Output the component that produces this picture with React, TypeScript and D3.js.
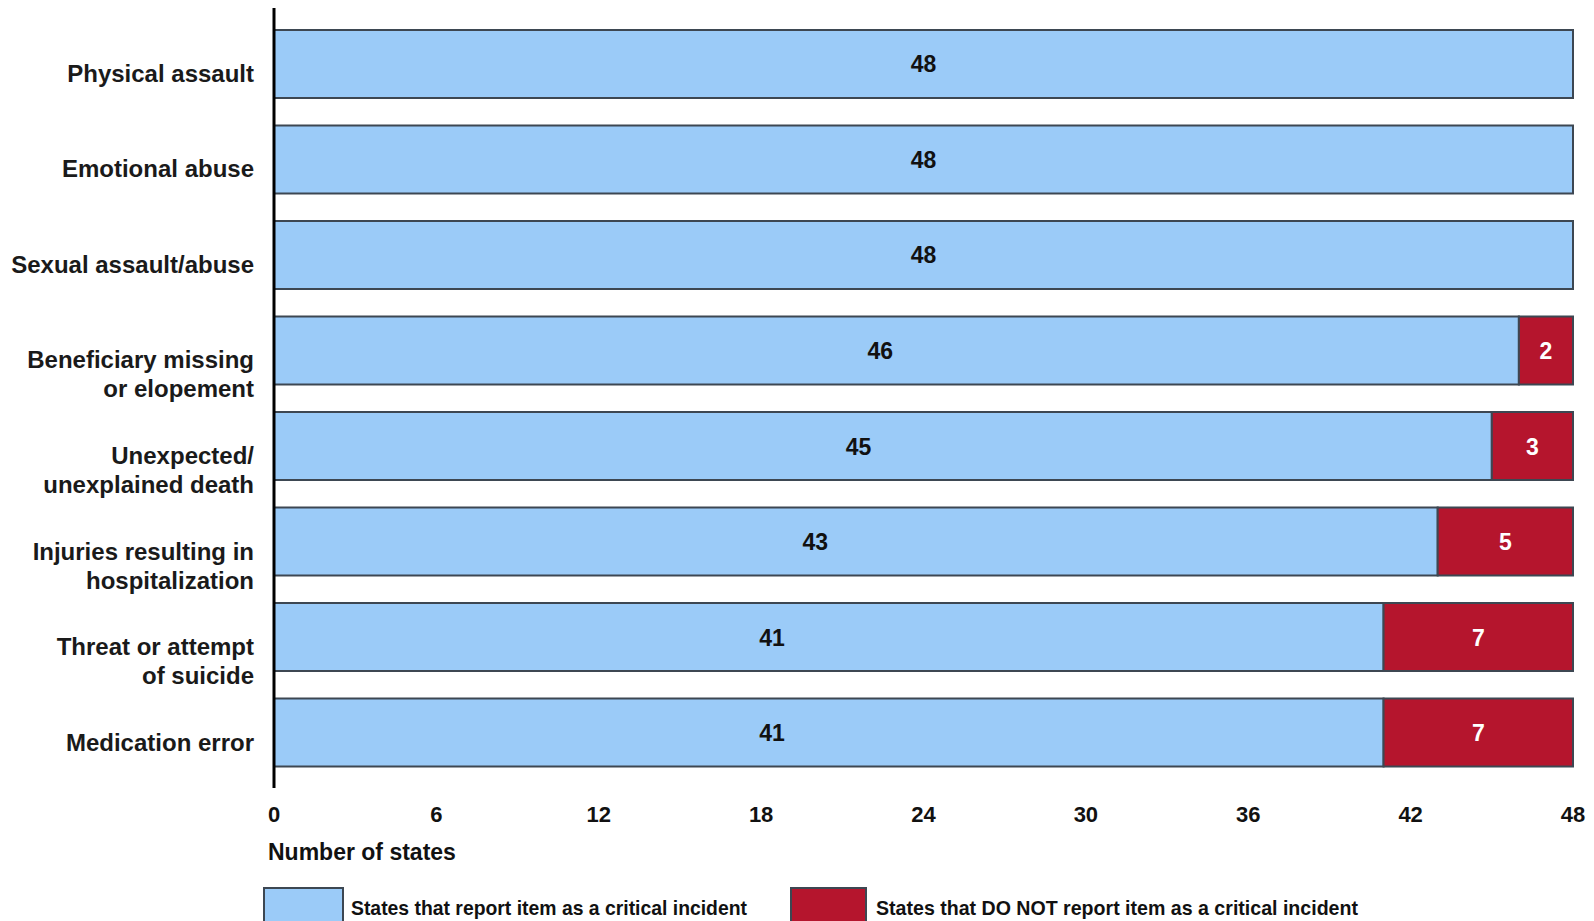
import React from "react";
import * as d3 from "d3";

const categories: string[][] = [
  ["Physical assault"],
  ["Emotional abuse"],
  ["Sexual assault/abuse"],
  ["Beneficiary missing", "or elopement"],
  ["Unexpected/", "unexplained death"],
  ["Injuries resulting in", "hospitalization"],
  ["Threat or attempt", "of suicide"],
  ["Medication error"],
];
const reportValues: number[] = [48, 48, 48, 46, 45, 43, 41, 41];
const notReportValues: number[] = [0, 0, 0, 2, 3, 5, 7, 7];
const xTicks: number[] = [0, 6, 12, 18, 24, 30, 36, 42, 48];
const xLabel = "Number of states";
const legendLabels: string[] = [
  "States that report item as a critical incident",
  "States that DO NOT report item as a critical incident",
];

const W = 1594;
const H = 921;
const BLUE = "#9bcbf8";
const RED = "#b5152d";
const EDGE = "#3d4752";
const FONT = "'Liberation Sans', Arial, Helvetica, sans-serif";

export default function App() {
  const keys = categories.map((_, i) => String(i));
  const x = d3.scaleLinear().domain([0, 48]).range([274, 1573]);
  const y = d3
    .scaleBand<string>()
    .domain(keys)
    .range([30, 766.5])
    .paddingInner(0.288)
    .paddingOuter(0);
  const bw = y.bandwidth();

  return (
    <svg
      width={W}
      height={H}
      style={{ position: "absolute", left: 0, top: 0, background: "#fff" }}
      fontFamily={FONT}
      fontWeight="bold"
    >
      <rect x={0} y={0} width={W} height={H} fill="#fff" />
      {categories.map((lines, i) => {
        const y0 = y(keys[i]) as number;
        const cy = y0 + bw / 2;
        const blue = reportValues[i];
        const red = notReportValues[i];
        const labelX = x((blue - 0.6 * red) / 2);
        return (
          <g key={i}>
            <rect
              x={x(0)}
              y={y0}
              width={x(blue) - x(0)}
              height={bw}
              fill={BLUE}
              stroke={EDGE}
              strokeWidth={2}
            />
            {red > 0 && (
              <rect
                x={x(blue)}
                y={y0}
                width={x(blue + red) - x(blue)}
                height={bw}
                fill={RED}
                stroke={EDGE}
                strokeWidth={2}
              />
            )}
            <text
              x={labelX}
              y={cy + 8.5}
              textAnchor="middle"
              fontSize={23}
              fill="#111"
            >
              {blue}
            </text>
            {red > 0 && (
              <text
                x={x(blue + red / 2)}
                y={cy + 8.5}
                textAnchor="middle"
                fontSize={23}
                fill="#fff"
              >
                {red}
              </text>
            )}
            <text x={254} y={cy + 18} textAnchor="end" fontSize={24} fill="#1a1a1a">
              {lines.map((ln, j) => (
                <tspan key={j} x={254} dy={j === 0 ? 0 : 29}>
                  {ln}
                </tspan>
              ))}
            </text>
          </g>
        );
      })}
      <line x1={x(0)} x2={x(0)} y1={8} y2={788} stroke="#000" strokeWidth={3} />
      {xTicks.map((t) => (
        <text
          key={t}
          x={x(t)}
          y={822}
          textAnchor="middle"
          fontSize={22}
          fill="#111"
        >
          {t}
        </text>
      ))}
      <text x={268} y={860} fontSize={23} fill="#111">
        {xLabel}
      </text>
      <rect x={264} y={888} width={79} height={40} fill={BLUE} stroke={EDGE} strokeWidth={2} />
      <text
        x={351}
        y={915}
        fontSize={21}
        fill="#111"
        textLength={396}
        lengthAdjust="spacingAndGlyphs"
      >
        {legendLabels[0]}
      </text>
      <rect x={791} y={888} width={75} height={40} fill={RED} stroke={EDGE} strokeWidth={2} />
      <text
        x={876}
        y={915}
        fontSize={21}
        fill="#111"
        textLength={482}
        lengthAdjust="spacingAndGlyphs"
      >
        {legendLabels[1]}
      </text>
    </svg>
  );
}
